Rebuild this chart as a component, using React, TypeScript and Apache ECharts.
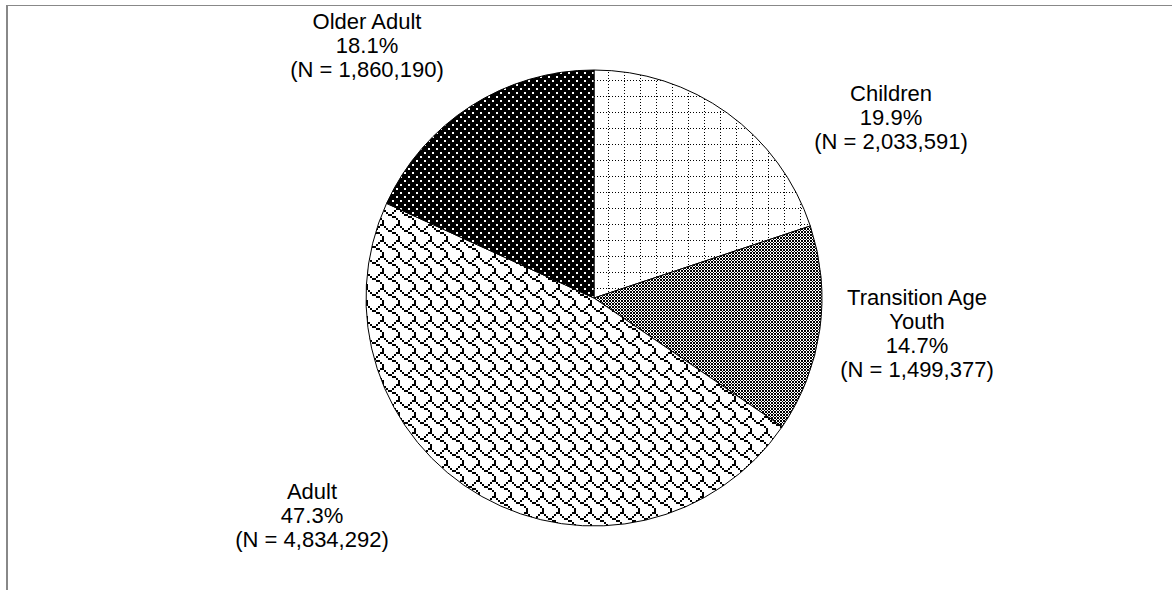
import React, { useEffect, useRef } from "react";
import * as echarts from "echarts";

// ---- data ----
const categories = ["Children", "Transition Age Youth", "Adult", "Older Adult"];
const labelNames = ["Children", "Transition Age\nYouth", "Adult", "Older Adult"];
const counts = [2033591, 1499377, 4834292, 1860190];
const percents = [19.9, 14.7, 47.3, 18.1];

// ---- layout (label block centres) ----
const labelCenters: number[][] = [
  [891, 117],
  [917, 333],
  [312, 515],
  [367, 45],
];

function tile(w: number, h: number, black: (x: number, y: number) => boolean) {
  const c = document.createElement("canvas");
  c.width = w;
  c.height = h;
  const ctx = c.getContext("2d")!;
  const img = ctx.createImageData(w, h);
  for (let y = 0; y < h; y++) {
    for (let x = 0; x < w; x++) {
      const v = black(x, y) ? 0 : 255;
      const k = (y * w + x) * 4;
      img.data[k] = v;
      img.data[k + 1] = v;
      img.data[k + 2] = v;
      img.data[k + 3] = 255;
    }
  }
  ctx.putImageData(img, 0, 0);
  return { image: c.toDataURL(), repeat: "repeat", imageWidth: w, imageHeight: h } as any;
}

function makePatterns() {
  const dottedGrid = tile(48, 48, (x, y) => (y % 16 === 0 && x % 3 === 0) || (x % 16 === 0 && y % 3 === 0));
  const idx = [0, 0, 1, 2, 2, 3];
  const checker = tile(6, 6, (x, y) => (idx[x] + idx[y]) % 2 === 0);
  const bits = [0x03, 0x84, 0x48, 0x30, 0x0c, 0x02, 0x01, 0x01];
  const shingle = tile(16, 16, (x, y) => ((bits[Math.floor(y / 2)] >> (7 - Math.floor(x / 2))) & 1) === 1);
  const darkDots = tile(8, 8, (x, y) => !((x % 8 < 2 && y % 8 < 2) || ((x + 4) % 8 < 2 && (y + 4) % 8 < 2)));
  return [dottedGrid, checker, shingle, darkDots];
}

function fmt(n: number) {
  return n.toString().replace(/\B(?=(\d{3})+(?!\d))/g, ",");
}

export default function App() {
  const ref = useRef<HTMLDivElement>(null);
  useEffect(() => {
    if (!ref.current) return;
    const chart = echarts.init(ref.current, undefined, { renderer: "svg" });
    const patterns = makePatterns();
    const data = categories.map((name, i) => ({
      name,
      value: counts[i],
      itemStyle: { color: patterns[i] },
      label: {
        formatter: `${labelNames[i]}\n${percents[i].toFixed(1)}%\n(N = ${fmt(counts[i])})`,
      },
    }));
    chart.setOption({
      animation: false,
      backgroundColor: "#fff",
      graphic: [
        { type: "line", shape: { x1: 7, y1: 5, x2: 7, y2: 590 }, style: { stroke: "#888", lineWidth: 2 } },
        { type: "line", shape: { x1: 6, y1: 5.5, x2: 1172, y2: 5.5 }, style: { stroke: "#888", lineWidth: 1 } },
      ],
      series: [
        {
          type: "pie",
          center: [594, 298],
          radius: 228,
          startAngle: 90,
          clockwise: true,
          silent: true,
          itemStyle: { borderColor: "#000", borderWidth: 1 },
          label: {
            show: true,
            position: "outside",
            color: "#000",
            fontFamily: "Liberation Sans, Arial, sans-serif",
            fontSize: 22,
            lineHeight: 24,
            align: "center",
          },
          labelLine: { show: false },
          labelLayout: (params: any) => {
            const p = labelCenters[params.dataIndex];
            return { x: p[0], y: p[1], align: "center", verticalAlign: "middle", hideOverlap: false };
          },
          data,
        },
      ],
    });
    return () => chart.dispose();
  }, []);
  return (
    <div
      ref={ref}
      style={{ position: "absolute", left: 0, top: 0, width: 1172, height: 590 }}
    />
  );
}
